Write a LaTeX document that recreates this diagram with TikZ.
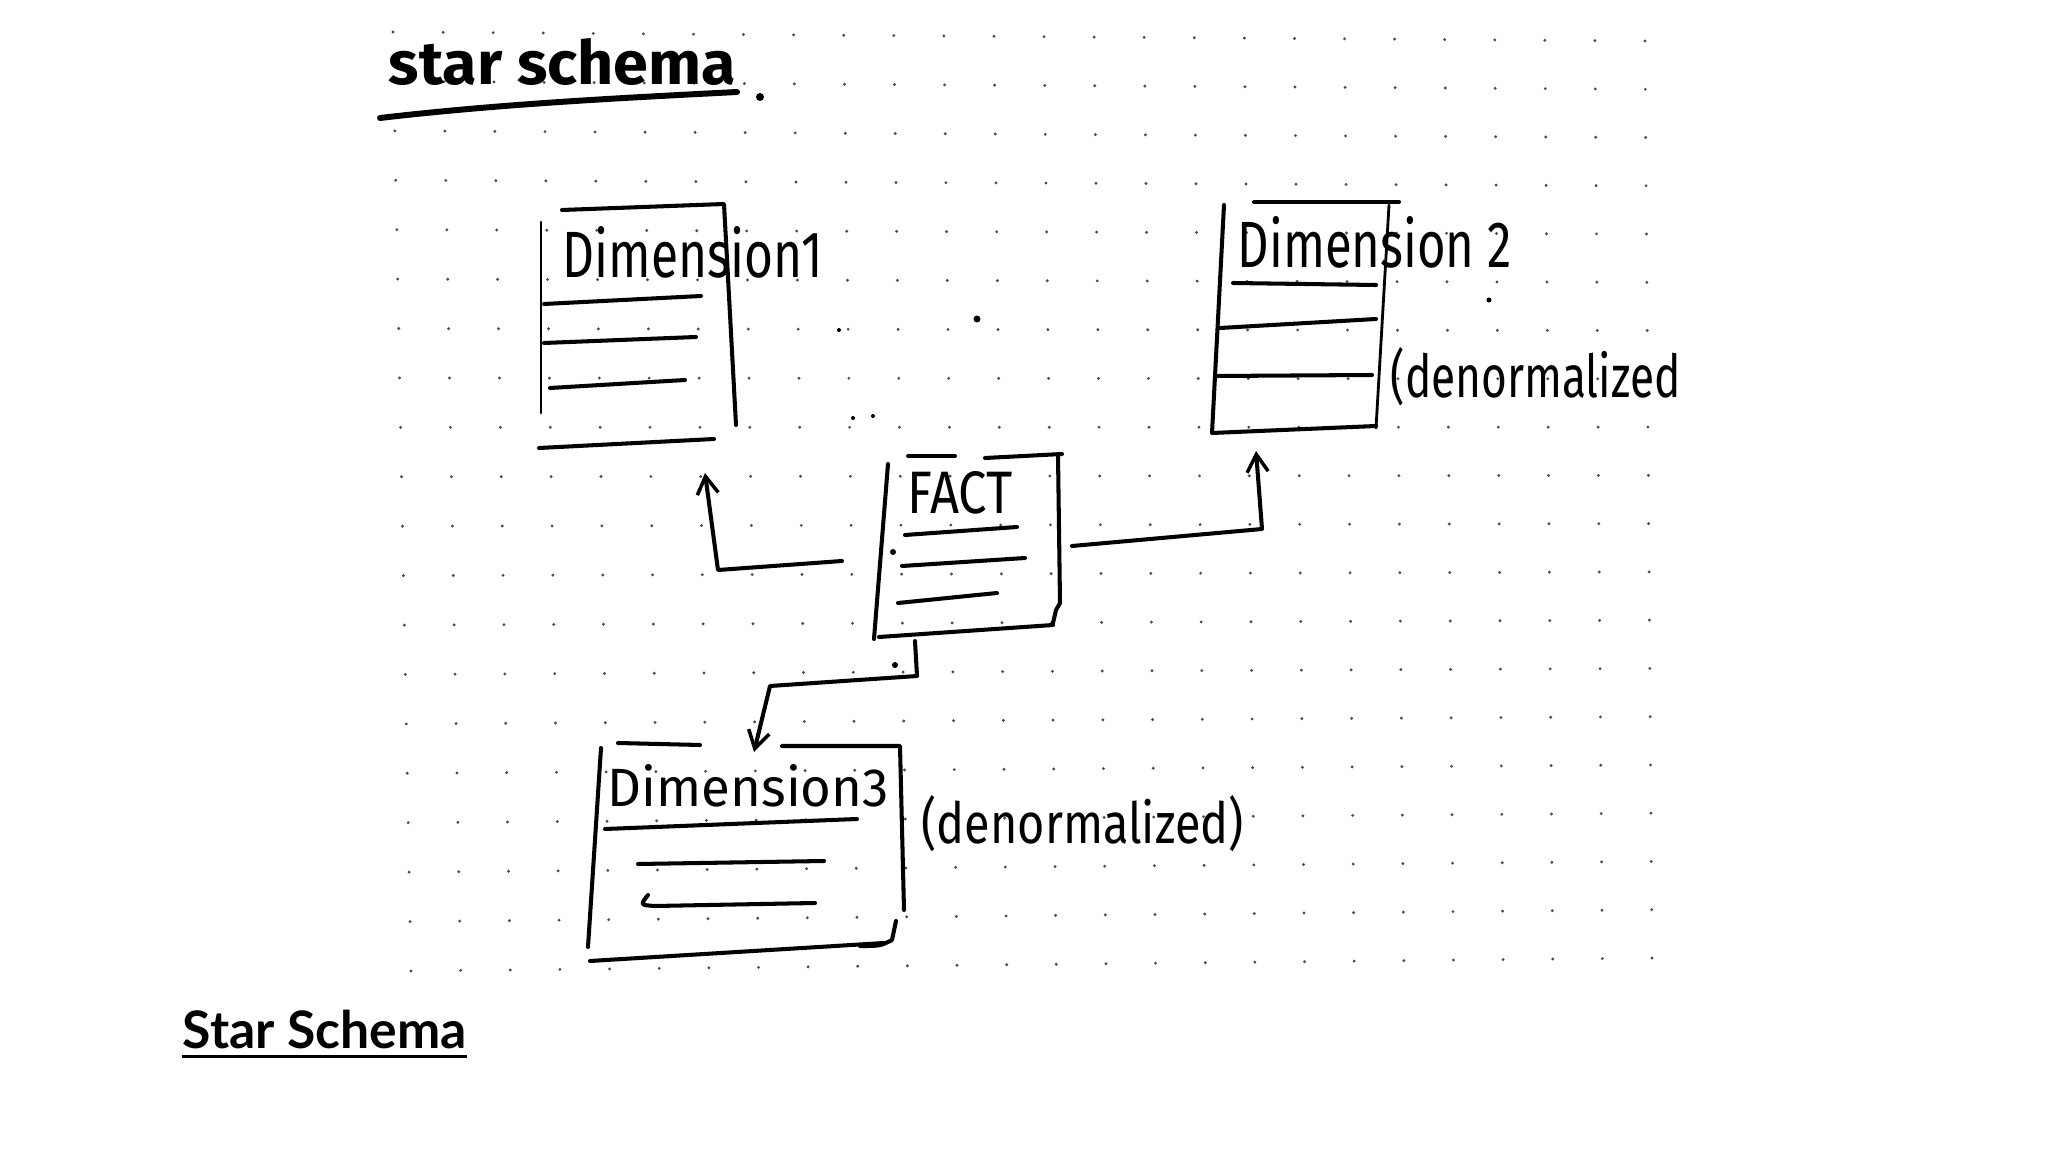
\documentclass[tikz,border=0pt]{standalone}
\usepackage{fontspec}
\setmainfont{Fira Sans}
\newfontfamily\capfont{Lato}
\newfontfamily\hwfont{Fira Sans}
\usetikzlibrary{arrows.meta}
\begin{document}
\begin{tikzpicture}[x=0.01cm,y=-0.01cm,
  ink/.style={line width=1.15pt,line cap=round,line join=round},
  fine/.style={line width=0.8pt,line cap=round,line join=round},
  hw/.style={anchor=base west,inner sep=0pt,font=\hwfont},
  hwbold/.style={hw,font=\hwfont\bfseries},
  tipped/.style={-{Straight Barb[length=5pt,width=6pt,line width=1pt]}},
  gdot/.style={fill=black!70},
  ink dot/.style={fill=black}]
\useasboundingbox[fill=white] (0,0) rectangle (2048,1152);

% dot grid (photographed paper, slight perspective)
\foreach \i in {0,...,25}{
  \foreach \j in {0,...,19}{
    \pgfmathsetmacro\u{\i/25}
    \pgfmathsetmacro\v{\j/19}
    \pgfmathsetmacro\px{393+1252*\u+18*\v-11*\u*\v}
    \pgfmathsetmacro\py{32+9*\u+939*\v-22*\u*\v}
    \fill[gdot] (\px,\py) circle (1.6);
  }
}

% handwritten title
\node[hwbold] (title) at (388,85) {\resizebox{3.47cm}{0.46cm}{star schema}};
\draw[ink,line width=1.7pt] (380,118) .. controls (500,104) and (620,98) .. (737,92);
\fill[ink dot] (760,97) circle (4);

% Dimension 1
\draw[ink] (562,210) -- (724,204) -- (736,425);
\draw[fine] (541,222) -- (541,413);
\draw[ink] (539,448) -- (714,439);
\draw[ink] (544,304) -- (701,296);
\draw[ink] (544,343) -- (696,337);
\draw[ink] (550,388) -- (685,380);
\node[hw] (d1) at (562,278) {\resizebox{2.60cm}{0.51cm}{Dimension1}};

% Dimension 2
\draw[ink] (1254,202) -- (1399,202);
\draw[fine] (1389,205) -- (1376,428);
\draw[ink] (1224,205) -- (1212,433) -- (1376,426);
\draw[ink] (1233,283) -- (1376,285);
\draw[ink] (1220,328) -- (1376,319);
\draw[ink] (1216,376) -- (1372,375);
\node[hw] (d2) at (1237,268) {\resizebox{2.74cm}{0.51cm}{Dimension 2}};
\node[hw] (d2n) at (1390,398) {\resizebox{2.90cm}{0.50cm}{(denormalized}};

% FACT
\draw[ink] (908,456) -- (955,456);
\draw[ink] (985,458) -- (1062,454);
\draw[ink] (1058,455) -- (1060,603) -- (1056,610) -- (1053,623);
\draw[ink] (888,464) -- (874,639);
\draw[ink] (879,637) -- (1053,625);
\draw[ink] (905,535) -- (1017,527);
\draw[ink] (902,566) -- (1025,558);
\draw[ink] (898,603) -- (997,593);
\node[hw] (fact) at (907,514) {\resizebox{1.05cm}{0.42cm}{FACT}};

% Dimension 3
\draw[ink] (618,743) -- (700,745);
\draw[ink] (782,746) -- (900,746) -- (904,910);
\draw[ink] (896,921) -- (892,940) .. controls (880,946) .. (860,946);
\draw[ink] (601,748) -- (588,947);
\draw[ink] (590,961) -- (884,943);
\draw[ink] (605,829) -- (857,819);
\draw[ink] (638,864) -- (824,861);
\draw[ink] (648,895) .. controls (640,905) .. (655,906) -- (815,903);
\node[hw] (d3) at (607,806) {\resizebox{2.81cm}{0.42cm}{Dimension3}};
\node[hw] (d3n) at (921,843) {\resizebox{3.22cm}{0.48cm}{(denormalized)}};

% stray ink marks
\fill[ink dot] (977,319) circle (3.5);
\fill[ink dot] (839,330) circle (2);
\fill[ink dot] (1489,300) circle (2.5);
\fill[ink dot] (853,418) circle (2);
\fill[ink dot] (873,416) circle (2);
\fill[ink dot] (893,552) circle (3);
\fill[ink dot] (895,665) circle (3);

% connectors
\coordinate (c1a) at (842,561);
\coordinate (c1b) at (718,570);
\coordinate (c1c) at (705,473);
\draw[ink,tipped] (c1a) -- (c1b) -- (c1c);

\coordinate (c2a) at (1072,546);
\coordinate (c2b) at (1262,529);
\coordinate (c2c) at (1256,451);
\draw[ink,tipped] (c2a) -- (c2b) -- (c2c);

\coordinate (c3a) at (915,641);
\coordinate (c3b) at (917,676);
\coordinate (c3c) at (770,686);
\coordinate (c3d) at (754,752);
\draw[ink,tipped] (c3a) -- (c3b) -- (c3c) -- (c3d);

% caption
\node[anchor=base west,inner sep=0pt,font=\capfont\bfseries\fontsize{14.7}{17}\selectfont] (cap) at (182,1048) {Star Schema};
\draw[line width=0.85pt] ([yshift=-0.08cm]cap.base west) -- ([yshift=-0.08cm]cap.base east);
\end{tikzpicture}
\end{document}
